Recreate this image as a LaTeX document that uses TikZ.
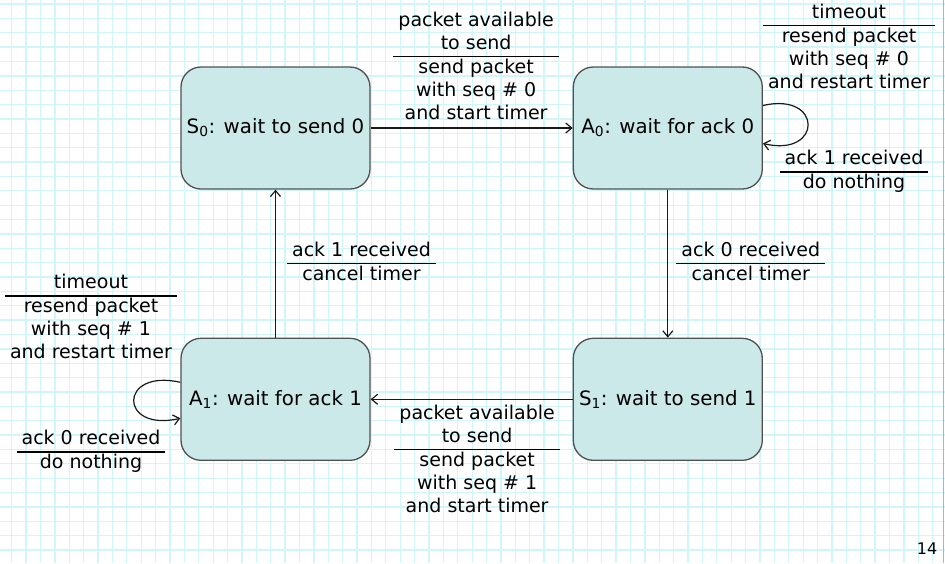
\documentclass[tikz,border=0pt]{standalone}
\usepackage{fontspec}
\setmainfont{DejaVu Sans}
\usetikzlibrary{positioning, arrows.meta}

\definecolor{gridcyan}{RGB}{208,245,250}
\definecolor{statefill}{RGB}{204,233,233}
\definecolor{stateline}{RGB}{80,80,80}

\setlength{\arrayrulewidth}{1.2pt}
% event over action, split by a rule
\newcommand{\trans}[2]{\begin{tabular}{@{\hspace{5pt}}c@{\hspace{5pt}}}#1\\\hline #2\end{tabular}}

\begin{document}
\begin{tikzpicture}[x=1pt, y=1pt, font=\fontsize{19}{23}\selectfont,
						state/.style={draw=stateline, fill=statefill, line width=1.3pt, rounded corners=20pt, minimum width=189pt, minimum height=122pt, font=\fontsize{19.8}{23}\selectfont},
						lbl/.style={inner sep=0pt},
						gridline/.style={draw=gridcyan, line width=1.3pt},
						arrow/.style={-{Straight Barb[length=6pt,width=10pt]}, line width=1.2pt, draw=black!90}]
						
						\useasboundingbox (0,0) rectangle (945,-563);
						\foreach \i in {0,...,64} \draw[gridline] ({11.7+14.39*\i},0) -- ++(0,-563);
						\foreach \j in {0,...,38} \draw[gridline] (0,{-4-14.37*\j}) -- ++(945,0);
						\draw[gray!60] (943.5,0) -- (943.5,-563);
						
						\node[state] (S0) at (275.5,-128) {S\textsubscript{0}: wait to send 0};
						\node[state, right=202pt of S0] (A0) {A\textsubscript{0}: wait for ack 0};
						\node[state, below=148pt of A0] (S1) {S\textsubscript{1}: wait to send 1};
						\node[state, below=148pt of S0] (A1) {A\textsubscript{1}: wait for ack 1};
						
						\draw[arrow] (S0) -- node[lbl, above=1pt, xshift=4.5pt] {\trans{packet available\\to send}{send packet\\with seq \# 0\\and start timer}} (A0);
						\draw[arrow] (A0) -- node[lbl, right=8pt] {\trans{ack 0 received}{cancel timer}} (S1);
						\draw[arrow] (S1) -- node[lbl, below=3pt, xshift=5.5pt] {\trans{packet available\\to send}{send packet\\with seq \# 1\\and start timer}} (A1);
						\draw[arrow] (A1) -- node[lbl, right=11pt] {\trans{ack 1 received}{cancel timer}} (S0);
						
						% self loops with their two transitions
						\draw[arrow] ([yshift=22.5pt]A0.east) .. controls +(60,14) and +(60,-14) .. ([yshift=-15.5pt]A0.east);
						\node[lbl] (toA0) at (849,-48.5) {\trans{timeout}{resend packet\\with seq \# 0\\and restart timer}};
						\node[lbl] (ackA0) at (854,-172) {\trans{ack 1 received}{do nothing}};
						
						\draw[arrow] ([yshift=17pt]A1.west) .. controls +(-62,14) and +(-62,-14) .. ([yshift=-19pt]A1.west);
						\node[lbl] (toA1) at (91,-319) {\trans{timeout}{resend packet\\with seq \# 1\\and restart timer}};
						\node[lbl] (ackA1) at (91,-452) {\trans{ack 0 received}{do nothing}};
						
						\node[font=\fontsize{16}{18}\selectfont] (page) at (927,-549) {14};
					\end{tikzpicture}
\end{document}
